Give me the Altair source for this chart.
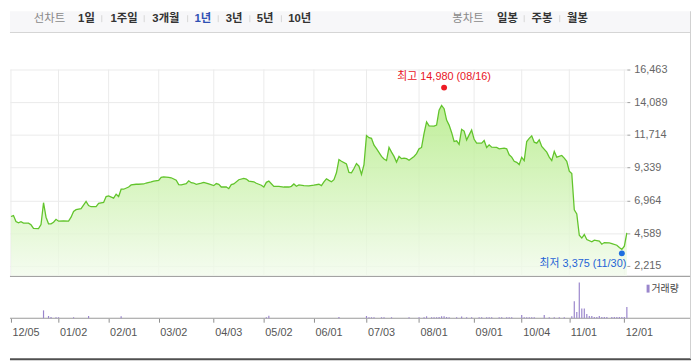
import altair as alt
import pandas as pd

# ---------------- data (trading-day index 0 = 2022-12-05) ----------------
day_idx = [0, 1, 2, 3, 4, 5, 7, 8, 9, 11, 12, 13, 14, 15, 16, 17, 18, 19, 21, 23,
           24, 25, 26, 28, 30, 31, 32, 34, 35, 37, 38, 39, 41, 42, 43, 44, 45, 47, 48, 50,
           51, 53, 54, 56, 57, 59, 60, 61, 63, 64, 66, 67, 68, 70, 71, 72, 73, 74, 76, 77,
           79, 81, 82, 83, 84, 86, 87, 88, 89, 91, 93, 94, 95, 97, 98, 99, 100, 101, 102, 103,
           104, 105, 107, 109, 111, 112, 113, 114, 115, 117, 119, 121, 123, 124, 125, 126, 127, 128, 129, 130,
           131, 132, 134, 135, 136, 137, 138, 139, 140, 141, 142, 143, 144, 145, 146, 148, 149, 150, 151, 152,
           153, 154, 155, 156, 157, 158, 159, 161, 162, 163, 164, 165, 166, 167, 169, 170, 171, 172, 173, 174,
           175, 176, 177, 178, 179, 180, 181, 182, 183, 184, 185, 186, 188, 189, 190, 191, 192, 194, 195, 197,
           198, 199, 200, 201, 202, 203, 204, 205, 206, 207, 208, 209, 210, 211, 212, 214, 215, 216, 217, 218,
           220, 221, 222, 223, 224, 225, 226, 227, 228, 229, 230, 232, 233, 235, 236, 237, 239, 240, 242, 243,
           244, 245, 246]
close = [5800, 5870, 5440, 5340, 5420, 5320, 5320, 5200, 4940, 4920, 5220, 6800, 5750, 5270, 5270, 5390, 5600, 5460, 5490, 5460,
         5750, 6170, 6300, 6370, 6890, 6600, 6510, 6510, 6750, 6820, 7250, 7300, 7130, 7420, 7250, 7780, 7780, 7940, 8090, 8140,
         8140, 8160, 8230, 8320, 8370, 8420, 8640, 8680, 8640, 8610, 8440, 8110, 8090, 8180, 8390, 8250, 8230, 8140, 8230, 8280,
         8160, 8040, 8190, 8140, 7940, 7940, 7820, 8110, 8160, 8470, 8570, 8520, 8370, 8320, 8210, 8140, 8070, 7940, 8280, 8370,
         8180, 7990, 7990, 7940, 7940, 7990, 8160, 7990, 8090, 8040, 8020, 8070, 8140, 8040, 8320, 8540, 8420, 8320, 8470, 8970,
         9930, 9810, 9610, 9000, 8970, 9280, 9640, 9450, 8850, 9570, 11670, 11520, 11470, 10980, 10720, 10160, 9970, 9860, 10810, 10470,
         10160, 9750, 10160, 10000, 10040, 10000, 9880, 10160, 10360, 10710, 10810, 11830, 12670, 12380, 12360, 12430, 13510, 13860, 13620, 12790,
         12430, 11900, 11240, 11290, 11040, 12120, 12000, 11360, 11720, 12070, 11400, 11120, 11120, 11310, 10810, 11000, 10830, 10810, 10710, 10760,
         10710, 10280, 10110, 9810, 9730, 9570, 10090, 9860, 11240, 11470, 11650, 11190, 11120, 11360, 10880, 10470, 10110, 9860, 10520, 10110,
         10230, 10040, 9810, 9090, 8920, 6280, 5990, 4440, 4240, 4490, 4130, 3960, 4080, 4010, 3790, 3910, 3880, 3840, 3720, 3550,
         3410, 3650, 4620]

vol_idx = [13, 15, 16, 18, 19, 25, 31, 44, 102, 103, 131, 142, 143, 144, 145, 148, 149, 152, 159, 163,
           165, 166, 168, 169, 170, 171, 172, 173, 174, 175, 178, 180, 182, 184, 187, 188, 190, 191, 192, 195,
           196, 198, 199, 200, 204, 205, 206, 207, 208, 209, 213, 215, 217, 219, 221, 224, 225, 226, 227, 228,
           229, 230, 231, 232, 233, 234, 235, 236, 237, 238, 240, 241, 242, 243, 244, 245, 246]
volume = [800000, 230000, 130000, 100000, 100000, 100000, 230000, 200000, 100000, 250000, 130000, 230000, 100000, 100000, 100000, 100000, 100000, 100000, 100000, 100000,
          100000, 200000, 100000, 100000, 100000, 130000, 200000, 200000, 130000, 100000, 100000, 170000, 100000, 100000, 100000, 100000, 100000, 100000, 100000, 100000,
          100000, 100000, 100000, 100000, 330000, 100000, 100000, 100000, 100000, 100000, 330000, 100000, 100000, 100000, 100000, 200000, 1730000, 630000, 3630000, 1000000,
          1000000, 430000, 230000, 230000, 130000, 130000, 230000, 130000, 130000, 130000, 130000, 130000, 130000, 130000, 130000, 130000, 1130000]

tick_idx = [0, 19, 39, 59, 81, 101, 121, 142, 163, 185, 204, 223, 245]
tick_lbl = ["12/05", "01/02", "02/01", "03/02", "04/03", "05/02", "06/01",
            "07/03", "08/01", "09/01", "10/04", "11/01", "12/01"]
price_ticks = [2215, 4589, 6964, 9339, 11714, 14089, 16463]

hi_idx, hi_val, hi_lbl = 173, 14980, "최고 14,980 (08/16)"
lo_idx, lo_val, lo_lbl = 244, 3375, "최저 3,375 (11/30)"

nav_left = ["선차트", "1일", "1주일", "3개월", "1년", "3년", "5년", "10년"]
nav_right = ["봉차트", "일봉", "주봉", "월봉"]
vol_legend = "거래량"

# ---------------- layout / style ----------------
W, H = 625, 311
FONT = "'Liberation Sans', 'Noto Sans CJK KR', sans-serif"
KFONT = "'Noto Sans CJK KR', sans-serif"
FULL_W = 690

price_df = pd.DataFrame({"i": day_idx, "p": close})
vol_df = pd.DataFrame({"i": vol_idx, "v": volume})
tick_df = pd.DataFrame({"i": tick_idx})
hi_df = pd.DataFrame({"i": [hi_idx], "p": [hi_val], "t": [hi_lbl]})
lo_df = pd.DataFrame({"i": [lo_idx], "p": [lo_val], "t": [lo_lbl]})
one = pd.DataFrame({"k": [0]})

label_expr = ("[" + ",".join(f"'{l}'" for l in tick_lbl) + "][indexof([" +
              ",".join(str(i) for i in tick_idx) + "], datum.value)]")

X = alt.X("i:Q", scale=alt.Scale(domain=[-0.4, 246], nice=False, zero=False, padding=0),
          axis=alt.Axis(values=tick_idx, labelExpr=label_expr, orient="bottom", domain=False,
                        grid=False, ticks=True, tickSize=4, tickColor="#8c8c8c",
                        labelAlign="left", labelBaseline="top", labelPadding=4, labelOffset=1,
                        labelFont=FONT, labelFontSize=11, labelColor="#555555",
                        labelOverlap=False, labelBound=False, labelFlush=False, title=None))

yscale = alt.Scale(domain=[-1580, 20687], nice=False, zero=False)
YP = alt.Y("p:Q", scale=yscale,
           axis=alt.Axis(orient="right", values=price_ticks, format=",d", grid=True,
                         gridColor="#ebebeb", domain=False, tickSize=3, tickColor="#a0a0a0",
                         labelPadding=4, labelFont=FONT, labelFontSize=11, labelColor="#666666",
                         labelOverlap=False, labelFlush=False, labelBound=False, title=None))

# vertical grid lines (price panel only)
vgrid = alt.Chart(tick_df).mark_rule(color="#ebebeb", strokeWidth=1).encode(
    x=X, y=alt.value(59), y2=alt.value(268))

area = alt.Chart(price_df).mark_area(
    color=alt.Gradient(gradient="linear",
                       stops=[alt.GradientStop(color="#b0ea80", offset=0),
                              alt.GradientStop(color="#d1f3b6", offset=0.5),
                              alt.GradientStop(color="#f2fbec", offset=1)],
                       x1=0, x2=0, y1=0, y2=1),
    fillOpacity=0.8).encode(x=X, y=YP, y2=alt.datum(1500))

line = alt.Chart(price_df).mark_line(color="#62c42c", strokeWidth=1.3).encode(x=X, y=YP)

hi_dot = alt.Chart(hi_df).mark_circle(color="#ee1c25", size=36, opacity=1, yOffset=-2.4).encode(x=X, y=YP)
hi_txt = alt.Chart(hi_df).mark_text(color="#e8141e", font=FONT, fontSize=11, dy=-13,
                                    align="center", baseline="middle").encode(x=X, y=YP, text="t:N")
lo_dot = alt.Chart(lo_df).mark_circle(color="#1f6fe0", size=36, opacity=1, yOffset=3.5).encode(x=X, y=YP)
lo_txt = alt.Chart(lo_df).mark_text(color="#1e63d6", font=FONT, fontSize=11, dy=14, dx=4.5,
                                    align="right", baseline="middle").encode(x=X, y=YP, text="t:N")

price_group = alt.layer(vgrid, area, line, hi_dot, hi_txt, lo_dot, lo_txt)

vol = alt.Chart(vol_df).mark_rule(color="#9a86cc", strokeWidth=1.2).encode(
    x=X,
    y=alt.Y("v:Q", scale=alt.Scale(domain=[0, 31100000], nice=False, zero=True), axis=None),
    y2=alt.datum(0))
vol_group = alt.layer(vol)

# ---------------- decoration (tab bar, frame lines, legend) ----------------
nav_bg = alt.Chart(one).mark_rect(color="#f7f7f9").encode(
    x=alt.value(0), x2=alt.value(FULL_W), y=alt.value(0), y2=alt.value(22))
nav_border = alt.Chart(one).mark_rule(color="#d4d4d4", strokeWidth=1).encode(
    x=alt.value(0), x2=alt.value(FULL_W), y=alt.value(21.5))

nav_pos_left = [40, 77.5, 115.5, 158, 195.5, 227, 258.5, 293.5]
nav_pos_right = [464, 504, 539, 575]
nav_df = pd.DataFrame({
    "t": nav_left + nav_right,
    "px": nav_pos_left + nav_pos_right,
    "c": ["#8a8a8a", "#333333", "#333333", "#333333", "#2f51b4", "#333333", "#333333", "#333333",
          "#8a8a8a", "#333333", "#333333", "#333333"],
    "b": [0, 1, 1, 1, 1, 1, 1, 1, 0, 1, 1, 1],
})
nav_txt_n = alt.Chart(nav_df).transform_filter("datum.b == 0").mark_text(
    font=KFONT, fontSize=11.5, baseline="middle", align="center").encode(
    x=alt.X("px:Q", scale=None), y=alt.value(7.5), text="t:N", color=alt.Color("c:N", scale=None))
nav_txt_b = alt.Chart(nav_df).transform_filter("datum.b == 1").mark_text(
    font=FONT, fontSize=11.5, fontWeight="bold", baseline="middle", align="center").encode(
    x=alt.X("px:Q", scale=None), y=alt.value(7.5), text="t:N", color=alt.Color("c:N", scale=None))
sep_df = pd.DataFrame({"px": [93, 136, 180, 211, 243, 275, 521, 557]})
nav_sep = alt.Chart(sep_df).mark_rule(color="#d6d6d6", strokeWidth=1).encode(
    x=alt.X("px:Q", scale=None), y=alt.value(4), y2=alt.value(11))

panel_sep = alt.Chart(one).mark_rule(color="#8a8a8a", strokeWidth=1).encode(
    x=alt.value(0), x2=alt.value(FULL_W), y=alt.value(268.5))
vol_base = alt.Chart(one).mark_rule(color="#999999", strokeWidth=1).encode(
    x=alt.value(0), x2=alt.value(FULL_W), y=alt.value(311))
bottom_line = alt.Chart(one).mark_rule(color="#505050", strokeWidth=2).encode(
    x=alt.value(0), x2=alt.value(FULL_W), y=alt.value(352.5))
right_border = alt.Chart(one).mark_rule(color="#d0d0d0", strokeWidth=1).encode(
    x=alt.value(689.5), y=alt.value(0), y2=alt.value(352))
leg_rect = alt.Chart(one).mark_rect(color="#9a86cc").encode(
    x=alt.value(645), x2=alt.value(648), y=alt.value(277), y2=alt.value(285))
leg_txt = alt.Chart(pd.DataFrame({"t": [vol_legend]})).mark_text(
    font=KFONT, fontSize=10, color="#444444", align="left", baseline="middle").encode(
    x=alt.value(650), y=alt.value(281), text="t:N")

deco = alt.layer(nav_bg, nav_border, nav_txt_n, nav_txt_b, nav_sep,
                 panel_sep, vol_base, bottom_line, right_border, leg_rect, leg_txt)

chart = alt.layer(deco, price_group, vol_group).resolve_scale(y="independent").properties(
    width=W, height=H, padding=0
).configure_view(stroke=None)

chart.save("out.html", embed_options={"renderer": "svg", "actions": False})
